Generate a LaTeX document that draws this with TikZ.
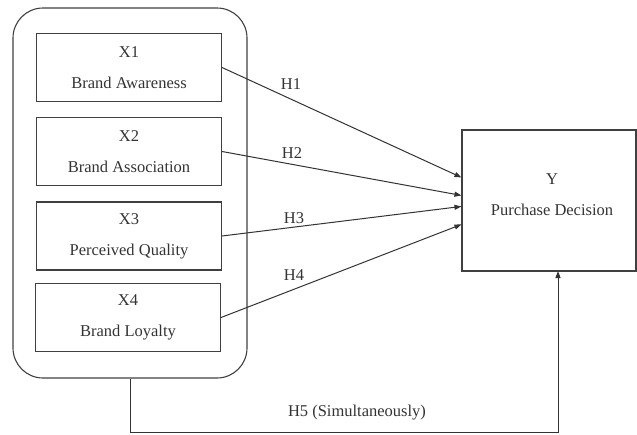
\documentclass[tikz,border=0pt]{standalone}
\usepackage{fontspec}
\setmainfont{Liberation Serif}
\usetikzlibrary{arrows.meta,calc}
\begin{document}
\begin{tikzpicture}[x=1pt,y=-1pt,
  every node/.style={font=\fontsize{16.5}{20}\selectfont, text=black!80},
  varbox/.style={draw=black!75, line width=1.1pt, minimum width=185pt, minimum height=68pt, align=center, inner sep=0pt},
  link/.style={draw=black!80, line width=1pt, -{Triangle[length=7pt,width=5pt]}},
  hlabel/.style={inner sep=1pt}]
\useasboundingbox (0,0) rectangle (637,434);
\node[draw=black!75, line width=1.1pt, rounded corners=30pt, minimum width=234pt, minimum height=370pt, inner sep=0pt] (outer) at (130,193) {};
\node[varbox] (x1) at (129,67.5) {X1\\[11pt]Brand Awareness};
\node[varbox] (x2) at (129,151.5) {X2\\[11pt]Brand Association};
\node[varbox] (x3) at (129,236) {X3\\[11pt]Perceived Quality};
\node[varbox] (x4) at (128,317.5) {X4\\[11pt]Brand Loyalty};
\node[draw=black!75, line width=1.1pt, minimum width=174pt, minimum height=141pt, inner sep=0pt] (y) at (549,200.5) {};
\node[align=center, inner sep=0pt] (ytext) at (552,195) {Y\\[11pt]Purchase Decision};
\coordinate (t1) at ($(y.north west)+(0,48)$);
\coordinate (t2) at ($(y.north west)+(0,66)$);
\coordinate (t3) at ($(y.north west)+(0,77)$);
\coordinate (t4) at ($(y.north west)+(0,95)$);
\draw[link] (x1.east) -- (t1);
\draw[link] (x2.east) -- (t2);
\draw[link] (x3.east) -- (t3);
\draw[link] (x4.east) -- (t4);
\node[hlabel] (h1) at (291,84) {H1};
\node[hlabel] (h2) at (292,153) {H2};
\node[hlabel] (h3) at (294,218) {H3};
\node[hlabel] (h4) at (294,275) {H4};
\coordinate (c1) at (outer.south |- 0,432);
\coordinate (c2) at (558,432);
\coordinate (c3) at (558,271);
\draw[link] (outer.south) -- (c1) -- (c2) -- (c3);
\node[hlabel] (h5) at (357,413) {H5 (Simultaneously)};
\end{tikzpicture}
\end{document}
